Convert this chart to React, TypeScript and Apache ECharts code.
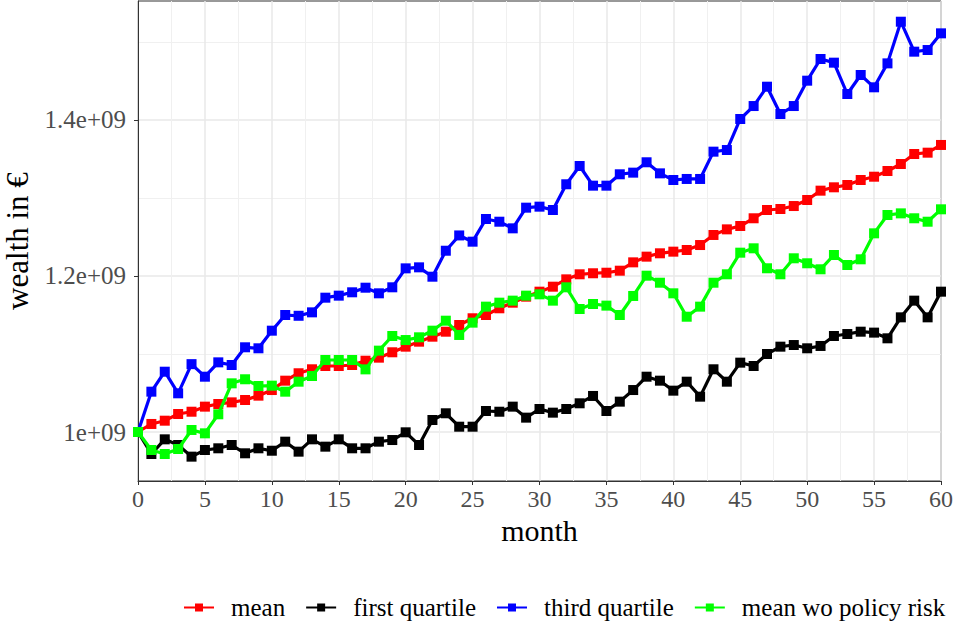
import React, { useEffect, useRef } from "react";
import * as echarts from "echarts";

const months: number[] = Array.from({ length: 61 }, (_, i) => i);

const meanValues = [
  1.0, 1.0103, 1.0145, 1.0231, 1.026, 1.0325, 1.0359, 1.038, 1.041, 1.0466,
  1.0538, 1.0658, 1.0753, 1.0804, 1.0846, 1.0846, 1.0859, 1.0914, 1.0953, 1.1022,
  1.1094, 1.1158, 1.1222, 1.1286, 1.1372, 1.1458, 1.15, 1.1586, 1.1658, 1.1735,
  1.1799, 1.1863, 1.1957, 1.2022, 1.2035, 1.2042, 1.2068, 1.2175, 1.2248, 1.2291,
  1.2312, 1.2333, 1.2397, 1.2526, 1.2598, 1.2641, 1.274, 1.2846, 1.2859, 1.2897,
  1.2974, 1.3094, 1.3137, 1.3167, 1.3231, 1.3273, 1.3346, 1.3436, 1.3564, 1.3581,
  1.368,
];

const firstQuartile = [
  1.0, 0.9718, 0.9906, 0.9833, 0.9684, 0.9769, 0.9791, 0.9833, 0.9727, 0.9791,
  0.976, 0.9876, 0.9748, 0.9906, 0.9812, 0.9906, 0.9791, 0.9791, 0.9876, 0.9897,
  0.9996, 0.9833, 1.0154, 1.024, 1.0068, 1.0068, 1.0269, 1.026, 1.0325, 1.0184,
  1.0295, 1.0248, 1.0295, 1.0368, 1.0462, 1.0269, 1.0389, 1.0538, 1.0709, 1.0658,
  1.053, 1.0645, 1.0453, 1.0804, 1.0645, 1.0889, 1.0846, 1.1, 1.1094, 1.1115,
  1.1073, 1.1103, 1.1231, 1.1256, 1.1286, 1.1274, 1.1201, 1.147, 1.1684, 1.147,
  1.1799,
];

const thirdQuartile = [
  1.0, 1.0517, 1.0773, 1.0496, 1.087, 1.0709, 1.0893, 1.0859, 1.1086, 1.1073,
  1.1299, 1.15, 1.149, 1.1534, 1.1722, 1.1748, 1.1791, 1.185, 1.1778, 1.1855,
  1.2098, 1.2111, 1.1991, 1.2324, 1.252, 1.244, 1.2731, 1.2696, 1.2611, 1.2876,
  1.2889, 1.2846, 1.3176, 1.341, 1.3158, 1.3158, 1.3304, 1.3325, 1.3458, 1.3316,
  1.3231, 1.3244, 1.3244, 1.3594, 1.3615, 1.4013, 1.4179, 1.4427, 1.4077, 1.4179,
  1.4504, 1.4782, 1.4735, 1.4333, 1.4577, 1.4419, 1.4726, 1.526, 1.4876, 1.4897,
  1.5111,
];

const meanWoPolicyRisk = [
  1.0, 0.9769, 0.9718, 0.9782, 1.0026, 0.9983, 1.0227, 1.0624, 1.0676, 1.059,
  1.0594, 1.0517, 1.0645, 1.0718, 1.0923, 1.0923, 1.0923, 1.0803, 1.1043, 1.1231,
  1.1179, 1.1214, 1.1299, 1.1427, 1.1244, 1.1402, 1.1607, 1.1658, 1.1684, 1.1748,
  1.1765, 1.1684, 1.1855, 1.1577, 1.1641, 1.162, 1.15, 1.1744, 1.2004, 1.1914,
  1.1778, 1.1478, 1.1607, 1.1914, 1.2022, 1.2299, 1.2355, 1.2099, 1.2022, 1.2227,
  1.2163, 1.2086, 1.2269, 1.2141, 1.2214, 1.2547, 1.2782, 1.2803, 1.274, 1.2696,
  1.2855,
];

const seriesNames = ["mean", "first quartile", "third quartile", "mean wo policy risk"];
const seriesColors = ["#ff0000", "#000000", "#0000ff", "#00ff00"];

// y axis in units of 1e9
const yTickValues = [1.0, 1.2, 1.4];
const yTickLabels = ["1e+09", "1.2e+09", "1.4e+09"];
const yMinorValues = [1.1, 1.3, 1.5];
const yMin = 0.93718;
const yMax = 1.55256;

const FONT = "Liberation Serif";

export default function App() {
  const ref = useRef<HTMLDivElement>(null);

  useEffect(() => {
    if (!ref.current) return;
    const chart = echarts.init(ref.current, undefined, { renderer: "svg" });
    const allData = [meanValues, firstQuartile, thirdQuartile, meanWoPolicyRisk];

    const option: any = {
      animation: false,
      backgroundColor: "#ffffff",
      grid: {
        left: 138,
        right: 19,
        top: 1,
        bottom: 147,
        show: true,
        borderColor: "#333333",
        borderWidth: 1,
        backgroundColor: "transparent",
        containLabel: false,
        outerBoundsMode: "none",
      },
      legend: {
        data: seriesNames,
        left: 183,
        top: 595,
        padding: 0,
        itemWidth: 30,
        itemHeight: 10,
        itemGap: 20,
        textStyle: {
          fontFamily: FONT,
          fontSize: 25,
          color: "#000000",
          padding: [0, 0, 0, 12],
        },
      },
      xAxis: {
        type: "value",
        min: 0,
        max: 60,
        interval: 5,
        name: "month",
        nameLocation: "middle",
        nameGap: 34,
        nameTextStyle: { fontFamily: FONT, fontSize: 30, color: "#000000" },
        axisLine: { show: true, lineStyle: { color: "#333333", width: 1 } },
        axisTick: { show: true, length: 4, lineStyle: { color: "#333333", width: 1 } },
        axisLabel: { fontFamily: FONT, fontSize: 24, color: "#4d4d4d", margin: 6 },
        splitLine: { show: true, lineStyle: { color: "#e8e8e8", width: 1.5 } },
        minorTick: { show: false, splitNumber: 2 },
        minorSplitLine: { show: true, lineStyle: { color: "#f0f0f0", width: 1 } },
      },
      yAxis: [
        {
          type: "value",
          min: yMin,
          max: yMax,
          name: "wealth in €",
          nameLocation: "middle",
          nameRotate: 90,
          nameGap: 105,
          nameTextStyle: { fontFamily: FONT, fontSize: 31, color: "#000000" },
          axisLine: { show: true, lineStyle: { color: "#333333", width: 1 } },
          axisTick: {
            show: true,
            length: 4,
            customValues: yTickValues,
            lineStyle: { color: "#333333", width: 1 },
          },
          axisLabel: {
            customValues: yTickValues,
            fontFamily: FONT,
            fontSize: 25,
            color: "#4d4d4d",
            margin: 12,
            formatter: (v: number) => {
              const i = yTickValues.findIndex((t) => Math.abs(t - v) < 1e-9);
              return i >= 0 ? yTickLabels[i] : "";
            },
          },
          splitLine: { show: true, lineStyle: { color: "#e8e8e8", width: 1.5 } },
        },
        {
          type: "value",
          min: yMin,
          max: yMax,
          position: "left",
          axisLine: { show: false },
          axisTick: { show: false, customValues: yMinorValues },
          axisLabel: { show: false, customValues: yMinorValues },
          splitLine: { show: true, lineStyle: { color: "#f0f0f0", width: 1 } },
        },
      ],
      series: seriesNames.map((name, si) => ({
        name,
        type: "line",
        yAxisIndex: 0,
        data: months.map((m, i) => [m, allData[si][i]]),
        symbol: "rect",
        symbolSize: 10,
        showSymbol: true,
        lineStyle: { color: seriesColors[si], width: 3.2 },
        itemStyle: { color: seriesColors[si] },
        z: 2 + si,
      })),
    };

    chart.setOption(option);
    return () => chart.dispose();
  }, []);

  return (
    <div
      ref={ref}
      style={{ position: "fixed", left: 0, top: 0, width: 960, height: 628 }}
    />
  );
}
